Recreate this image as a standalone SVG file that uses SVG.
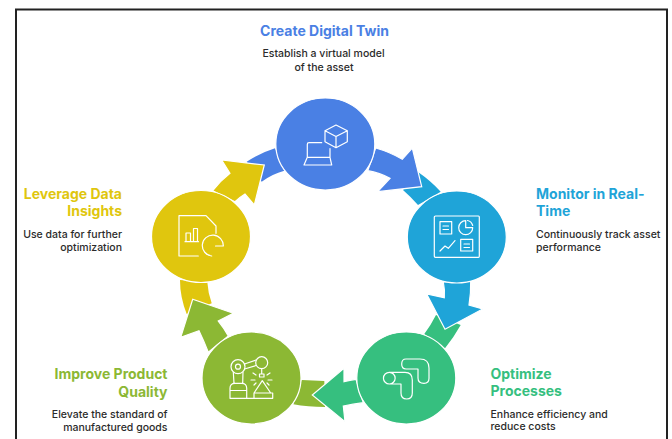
<svg xmlns="http://www.w3.org/2000/svg" width="672" height="439" viewBox="0 0 672 439">
<style>
text{font-family:"Inter","Liberation Sans",sans-serif}
.t{font-size:14px;font-weight:700}
.b{font-size:10.500px;font-weight:500;fill:#2b2b2b}
.e{text-anchor:end}.m{text-anchor:middle}
.h{stroke:#fff;stroke-width:1.200;stroke-linejoin:miter}
.c{stroke:#fff;stroke-width:1.200}
.i{fill:none;stroke:#fff;stroke-width:1.200;stroke-linecap:round;stroke-linejoin:round}
.blue{fill:#4a80e4}.teal{fill:#1fa4d8}.green{fill:#36bf7f}.lime{fill:#8cb834}.yellow{fill:#e0c60e}
</style>
<rect width="672" height="439" fill="#fff"/>
<path d="M16,439V9.500H667V439" fill="none" stroke="#222" stroke-width="2"/>
<g id="connectors">
<path class="blue" d="M246.700,161.700Q260,153 275,148.300L284.300,170.700Q272,174 261.700,181.700Z"/>
<path class="teal" d="M418,172Q431,181 440.700,191.700L418,205Q411,197 403,190Z"/>
<path class="green" d="M436,315Q431,325 424.300,334L445,348.300Q454,337 460.700,325Z"/>
<path class="lime" d="M301.700,380L324.300,381L325,407Q308,407 293.300,404.300Z"/>
<path class="yellow" d="M180,280Q180,297 186.700,314L211.700,303.300Q208,293 207.300,282Z"/>
<path class="blue h" d="M375.700,148Q390,152 402.300,159.300L412.300,148L421.700,186.700L377.700,191.700L390,178.300Q380,173 367.700,170.700Z"/>
<path class="teal h" d="M470.700,281Q471,293 469,305L482.700,309L445,329.300L426.700,294L444.300,297.700Q445,290 443.300,282Z"/>
<path class="green h" d="M356,379.300Q350,380 344,381.700L344,368.300L312.300,395L345,421.700L343.300,406Q353,404 363.300,402.700Z"/>
<path class="lime h" d="M228.300,336Q224,328 218.300,321L233.300,313.300L192.700,299.300L180.700,337.300L199,330.700Q204,341 208.300,352.300Z"/>
<path class="yellow h" d="M212.700,190.700Q220,181 230,173.300L221.700,160L264.300,165L254.300,205L245,194Q240,197 235,201.700Z"/>
</g>
<g id="node-twin">
<ellipse class="blue c" cx="325.300" cy="144" rx="49.500" ry="46"/>
<path class="i" d="M336,125L347.300,130.700V141.700L336,147.700L325,141.700V130.700ZM325,130.700L336,136.500L347.300,130.700M336,136.500V147.700M321.700,142.700H309Q307.300,142.700 307.300,144.500V157.300H330V148.500M307.300,157.300L304,165H331.700L330,157.300"/>
<text class="t m" x="324.500" y="36" fill="#4a80e4">Create Digital Twin</text>
<text class="b m" x="323.500" y="57">Establish a virtual model</text>
<text class="b m" x="324" y="71">of the asset</text>
</g>
<g id="node-monitor">
<ellipse class="teal c" cx="456.800" cy="237" rx="49.500" ry="46"/>
<path class="i" d="M435.500,216H478.500Q479.300,216 479.300,217V256.300Q479.300,257.300 478.500,257.300H435.500Q434.300,257.300 434.300,256.300V217Q434.300,216 435.500,216ZM440,221.700H451.700V234H440ZM443,226H448.500M443,229.500H448.500M440,251L445,246L448.300,248.300L455,240.700M460.700,239.300H472.700V251H460.700ZM464,244H469.500M464,247.500H469.500M465.700,220.700A7,7 0 1 0 472.700,227.700H465.700Z M467.500,220.500A7,7 0 0 1 472.700,225.500"/>
<text class="t" x="536" y="199" fill="#1fa4d8">Monitor in Real-</text>
<text class="t" x="536" y="216" fill="#1fa4d8">Time</text>
<text class="b" x="536" y="238">Continuously track asset</text>
<text class="b" x="536" y="251">performance</text>
</g>
<g id="node-optimize">
<ellipse class="green c" cx="406.300" cy="378" rx="49.500" ry="46"/>
<path class="i" d="M406,359H420Q429,359 429,368V378.300Q429,383.300 424,383.300Q418,383.300 418,378V369H406Q401.700,369 401.700,364Q401.700,359 406,359ZM389.300,372.300H405Q412.300,372.300 412.300,380V393Q412.300,399 406.700,399Q401,399 401,393V384H389.300M389.300,372.300A5.800,5.800 0 1 0 389.300,384A5.800,5.800 0 1 0 389.300,372.300Z"/>
<text class="t" x="490.500" y="379" fill="#36bf7f">Optimize</text>
<text class="t" x="490.500" y="396" fill="#36bf7f">Processes</text>
<text class="b" x="490.500" y="418">Enhance efficiency and</text>
<text class="b" x="490.500" y="430">reduce costs</text>
</g>
<g id="node-quality">
<ellipse class="lime c" cx="251.500" cy="378" rx="49.500" ry="46"/>
<path class="i" d="M230,398.300H272.700V393H254L262.300,380.700L270.700,393M254,393V398.300M230,398.300V388.300Q230,383.300 235,383.300H241.700Q246.700,383.300 246.700,388.300V398.300M230,390.500H246.700M234,383.300L233.300,372M242.700,383.300L243,372M244.500,364L256,360M244.500,369L256,365.500M261.700,368.500V374M259.500,374H264V377H259.500ZM253,373L256,375M251,380H255M254,385L256,383M270,373L267,375M272,380H268M269,385L267,383"/>
<circle class="i" cx="238" cy="366.700" r="7"/><circle class="i" cx="238" cy="366.700" r="2.500"/><circle class="i" cx="261.700" cy="362.700" r="6"/>
<text class="t e" x="167.500" y="379" fill="#8cb834">Improve Product</text>
<text class="t e" x="167.500" y="396.500" fill="#8cb834">Quality</text>
<text class="b e" x="167.500" y="418">Elevate the standard of</text>
<text class="b e" x="167.500" y="431">manufactured goods</text>
</g>
<g id="node-insights">
<ellipse class="yellow c" cx="201" cy="236.500" rx="49.500" ry="46"/>
<path class="i" d="M198.300,256H179V215.700H206L216,226V233.300M185,241.700H198.500M186,241.700V233H190.500V241.700M193.500,241.700V228.500H197.500V241.700M211.700,256A10.500,10.500 0 1 1 223.300,246H215.500"/>
<text class="t e" x="122" y="199" fill="#e0c60e">Leverage Data</text>
<text class="t e" x="122" y="216" fill="#e0c60e">Insights</text>
<text class="b e" x="122" y="238">Use data for further</text>
<text class="b e" x="122" y="251">optimization</text>
</g>
</svg>
